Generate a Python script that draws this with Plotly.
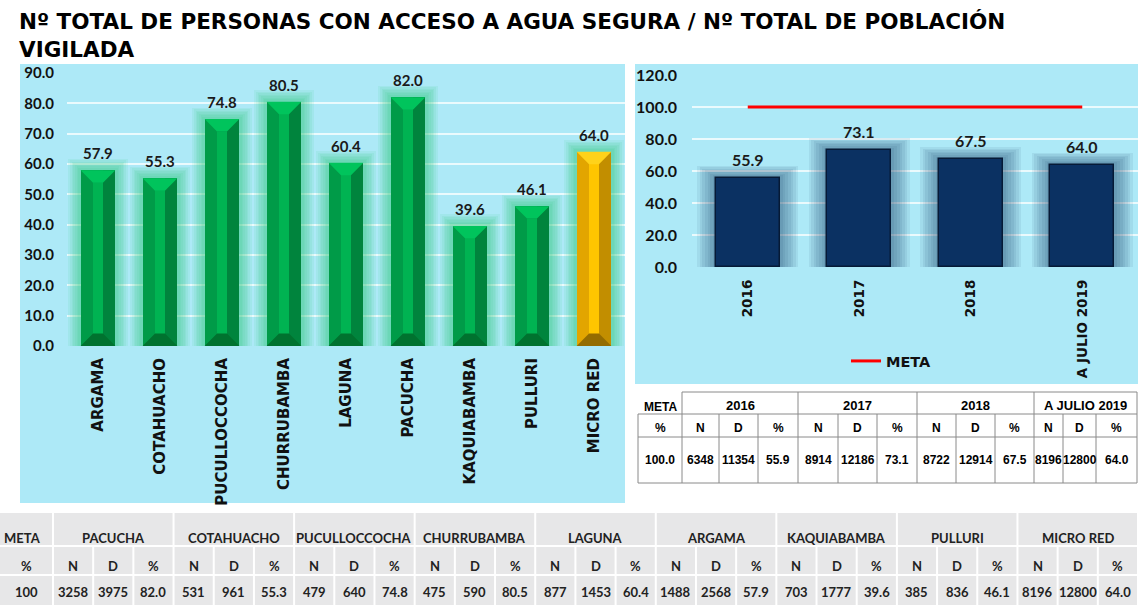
import plotly.graph_objects as go

# ---------------- data ----------------
categories = ["ARGAMA", "COTAHUACHO", "PUCULLOCCOCHA", "CHURRUBAMBA", "LAGUNA",
              "PACUCHA", "KAQUIABAMBA", "PULLURI", "MICRO RED"]
values = [57.9, 55.3, 74.8, 80.5, 60.4, 82.0, 39.6, 46.1, 64.0]
highlight = "MICRO RED"

years = ["2016", "2017", "2018", "A JULIO 2019"]
year_values = [55.9, 73.1, 67.5, 64.0]
meta_value = 100.0
year_N = [6348, 8914, 8722, 8196]
year_D = [11354, 12186, 12914, 12800]

table_names = ["PACUCHA", "COTAHUACHO", "PUCULLOCCOCHA", "CHURRUBAMBA", "LAGUNA",
               "ARGAMA", "KAQUIABAMBA", "PULLURI", "MICRO RED"]
table_N = [3258, 531, 479, 475, 877, 1488, 703, 385, 8196]
table_D = [3975, 961, 640, 590, 1453, 2568, 1777, 836, 12800]
table_pct = [82.0, 55.3, 74.8, 80.5, 60.4, 57.9, 39.6, 46.1, 64.0]
table_meta = 100

title_text = "Nº TOTAL DE PERSONAS CON ACCESO A AGUA SEGURA / Nº TOTAL DE POBLACIÓN<br>VIGILADA"

# ---------------- helpers ----------------
W, H = 1138, 605


def px(x):
    return x / W


def py(y):
    return 1 - y / H


NUMF = "Lato"
LABF = "DejaVu Sans"

fig = go.Figure()

idx = list(range(len(categories)))
hi = [c == highlight for c in categories]

BW = 0.56      # bar width (category units)
BEV_X = 0.2    # bevel depth in x
BEV_Y = 4.1    # bevel depth in y (value units)
inner = BW / 2 - BEV_X  # half width of the central stripe

# soft glow layers (left chart)
for k in range(7):
    dw = 0.40 - k * 0.055
    dy = 3.8 - k * 0.5
    fig.add_trace(go.Bar(x=idx, y=[v + dy for v in values], width=BW + dw,
                         marker=dict(color="rgba(45,205,125,0.09)", line=dict(width=0)),
                         hoverinfo="skip", showlegend=False, xaxis="x", yaxis="y"))

left_face = ["#E2A500" if h else "#009B48" for h in hi]
right_face = ["#C28E00" if h else "#00843D" for h in hi]
stripe = ["#FFC500" if h else "#00B352" for h in hi]

fig.add_trace(go.Bar(x=idx, y=values, width=BW,
                     marker=dict(color=left_face, line=dict(width=0)),
                     hoverinfo="skip", showlegend=False, xaxis="x", yaxis="y"))
fig.add_trace(go.Bar(x=idx, y=values, width=BW / 2 - inner, offset=inner,
                     marker=dict(color=right_face, line=dict(width=0)),
                     hoverinfo="skip", showlegend=False, xaxis="x", yaxis="y"))
fig.add_trace(go.Bar(x=idx, y=[v - 2 * BEV_Y for v in values], base=BEV_Y,
                     width=2 * inner, offset=-inner,
                     marker=dict(color=stripe, line=dict(width=0)),
                     hoverinfo="skip", showlegend=False, xaxis="x", yaxis="y"))


def trapezoids(sel, top):
    xs, ys = [], []
    for i, v, s in zip(idx, values, hi):
        if s != sel:
            continue
        if top:
            pts = [(i - BW / 2, v), (i + BW / 2, v), (i + inner, v - BEV_Y), (i - inner, v - BEV_Y)]
        else:
            pts = [(i - BW / 2, 0), (i + BW / 2, 0), (i + inner, BEV_Y), (i - inner, BEV_Y)]
        for x_, y_ in pts + [pts[0]]:
            xs.append(x_)
            ys.append(y_)
        xs.append(None)
        ys.append(None)
    return xs, ys


for sel, ctop, cbot in [(False, "#00C45C", "#00722F"), (True, "#FFD21A", "#946C00")]:
    for top, col in [(True, ctop), (False, cbot)]:
        xs, ys = trapezoids(sel, top)
        fig.add_trace(go.Scatter(x=xs, y=ys, mode="lines", fill="toself", fillcolor=col,
                                 line=dict(width=0, color=col), hoverinfo="skip",
                                 showlegend=False, xaxis="x", yaxis="y"))

# right chart: soft dark shadow + bars
yidx = list(range(len(years)))
for k in range(7):
    dw = 0.34 - k * 0.047
    dy = 7.5 - k * 1.0
    fig.add_trace(go.Bar(x=yidx, y=[v + dy for v in year_values], width=0.57 + dw,
                         marker=dict(color="rgba(20,55,100,0.075)", line=dict(width=0)),
                         hoverinfo="skip", showlegend=False, xaxis="x2", yaxis="y2"))
fig.add_trace(go.Bar(x=yidx, y=year_values, width=0.57,
                     marker=dict(color="#0B3162", line=dict(width=1.5, color="#061A36")),
                     hoverinfo="skip", showlegend=False, xaxis="x2", yaxis="y2"))
fig.add_trace(go.Scatter(x=yidx, y=[meta_value] * len(years), mode="lines", name="<b>META</b>",
                         line=dict(color="#FF0000", width=3), showlegend=True,
                         hoverinfo="skip", xaxis="x2", yaxis="y2"))

# data labels
ann = []
for i, v in zip(idx, values):
    ann.append(dict(x=i, y=v, xref="x", yref="y", text=f"<b>{v:.1f}</b>", showarrow=False,
                    yanchor="bottom", yshift=6, font=dict(family=NUMF, size=15, color="#1a1a1a")))
for i, v in zip(yidx, year_values):
    ann.append(dict(x=i, y=v, xref="x2", yref="y2", text=f"<b>{v:.1f}</b>", showarrow=False,
                    yanchor="bottom", yshift=7, font=dict(family=NUMF, size=16, color="#1a1a1a")))

# title
ann.append(dict(x=px(17), y=py(7), xref="paper", yref="paper", text=f"<b>{title_text}</b>",
                showarrow=False, xanchor="left", yanchor="top", align="left",
                font=dict(family="DejaVu Sans", size=21.5, color="#000000")))

shapes = []
# panels
shapes.append(dict(type="rect", xref="paper", yref="paper", x0=px(20), x1=px(625), y0=py(503), y1=py(64),
                   fillcolor="#ADE9F7", line=dict(width=0), layer="below"))
shapes.append(dict(type="rect", xref="paper", yref="paper", x0=px(635), x1=px(1138), y0=py(384), y1=py(64),
                   fillcolor="#ADE9F7", line=dict(width=0), layer="below"))

# ---------------- right table ----------------
rt_cols = [638, 682, 719, 758, 798, 838, 877, 917, 956, 995, 1034, 1063, 1096, 1137]
LC = "#8a8a8a"


def hline(x0, x1, y, color=LC, w=1):
    shapes.append(dict(type="line", xref="paper", yref="paper", x0=px(x0), x1=px(x1), y0=py(y), y1=py(y),
                       line=dict(color=color, width=w)))


def vline(x, y0, y1, color=LC, w=1):
    shapes.append(dict(type="line", xref="paper", yref="paper", x0=px(x), x1=px(x), y0=py(y0), y1=py(y1),
                       line=dict(color=color, width=w)))


hline(682, 1137, 392)
hline(638, 1137, 414)
hline(638, 1137, 437)
hline(638, 1137, 483)
vline(638, 414, 483)
for k, x in enumerate(rt_cols[1:], start=1):
    if (k - 1) % 3 == 0 or k == len(rt_cols) - 1:
        vline(x, 392, 483)
    else:
        vline(x, 414, 483)


def txt(x, y, s, size=12, fam="Liberation Sans", color="#000000"):
    ann.append(dict(x=px(x), y=py(y), xref="paper", yref="paper", text=f"<b>{s}</b>", showarrow=False,
                    xanchor="center", yanchor="middle", font=dict(family=fam, size=size, color=color)))


txt(660, 407, "META")
txt(660, 428, "%")
txt(660, 460, f"{meta_value:.1f}")
for g, yr in enumerate(years):
    c0 = rt_cols[1 + 3 * g]
    c3 = rt_cols[4 + 3 * g]
    txt((c0 + c3) / 2, 405, yr, size=13)
    vals = [str(year_N[g]), str(year_D[g]), f"{year_values[g]:.1f}"]
    for s, lab in enumerate(["N", "D", "%"]):
        a = rt_cols[1 + 3 * g + s]
        b = rt_cols[2 + 3 * g + s]
        txt((a + b) / 2, 428, lab)
        txt((a + b) / 2, 460, vals[s])

# ---------------- bottom table ----------------
shapes.append(dict(type="rect", xref="paper", yref="paper", x0=0, x1=1, y0=0, y1=py(513),
                   fillcolor="#E7E7E8", line=dict(width=0), layer="below"))
bt_top, bt_r1, bt_r2, bt_bot = 513, 546, 575, 605
meta_w = 53
gw = (W - meta_w) / len(table_names)
WL = "#FFFFFF"
hline(0, W, bt_r1, WL, 2)
hline(0, W, bt_r2, WL, 2)
vline(meta_w, bt_top, bt_bot, WL, 2)
BF = "Lato"
TC = "#222222"
txt(meta_w / 2 - 4, 538, "META", size=13, fam=BF, color=TC)
txt(meta_w / 2, 566, "%", size=13, fam=BF, color=TC)
txt(meta_w / 2, 592, str(table_meta), size=13, fam=BF, color=TC)
for g, name in enumerate(table_names):
    g0 = meta_w + g * gw
    vline(g0 + gw, bt_top, bt_bot, WL, 2)
    vline(g0 + gw / 3, bt_r1, bt_bot, WL, 2)
    vline(g0 + 2 * gw / 3, bt_r1, bt_bot, WL, 2)
    txt(g0 + gw / 2, 538, name, size=13, fam=BF, color=TC)
    vals = [str(table_N[g]), str(table_D[g]), f"{table_pct[g]:.1f}"]
    for s, lab in enumerate(["N", "D", "%"]):
        cx = g0 + gw / 6 + s * gw / 3
        txt(cx, 566, lab, size=13, fam=BF, color=TC)
        txt(cx, 592, vals[s], size=13, fam=BF, color=TC)

GRID = "rgba(255,255,255,0.75)"
fig.update_layout(
    width=W, height=H, autosize=False,
    margin=dict(l=0, r=0, t=0, b=0, pad=0, autoexpand=False),
    paper_bgcolor="#FFFFFF", plot_bgcolor="rgba(0,0,0,0)",
    barmode="overlay", bargap=0,
    shapes=shapes, annotations=ann,
    showlegend=True,
    legend=dict(x=px(846), y=py(361), xanchor="left", yanchor="middle", orientation="h",
                bgcolor="rgba(0,0,0,0)", font=dict(family=LABF, size=14.5, color="#111111"),
                itemwidth=30),
    xaxis=dict(domain=[px(67), px(625)], range=[-0.5, len(categories) - 0.5],
               tickvals=idx, ticktext=[f"<b>{c}</b>" for c in categories], tickangle=-90,
               tickfont=dict(family=LABF, size=15, color="#111111"), showgrid=False, zeroline=False,
               showline=False, ticks="", ticklabelstandoff=8, fixedrange=True, automargin=False),
    yaxis=dict(domain=[py(346), py(73)], range=[0, 90], dtick=10, tickformat=".1f",
               tickfont=dict(family=NUMF, size=15, color="#111111", weight="bold"),
               showgrid=True, gridcolor=GRID, gridwidth=1.5, zeroline=False, showline=False,
               ticklabelstandoff=12, fixedrange=True, automargin=False),
    xaxis2=dict(domain=[px(692), 1.0], range=[-0.5, len(years) - 0.5],
                tickvals=yidx, ticktext=[f"<b>{y}</b>" for y in years], tickangle=-90,
                tickfont=dict(family=LABF, size=13.5, color="#111111"), showgrid=False, zeroline=False,
                showline=False, ticks="", ticklabelstandoff=9, anchor="y2", fixedrange=True,
                automargin=False),
    yaxis2=dict(domain=[py(267), py(75)], range=[0, 120], dtick=20, tickformat=".1f",
                tickfont=dict(family=NUMF, size=16, color="#111111", weight="bold"),
                showgrid=True, gridcolor=GRID, gridwidth=1.5, zeroline=False, showline=False,
                ticklabelstandoff=14, anchor="x2", fixedrange=True, automargin=False),
)

fig.write_html("out.html", include_plotlyjs=True, full_html=True,
               config={"displayModeBar": False},
               post_script="document.body.style.margin='0';")
